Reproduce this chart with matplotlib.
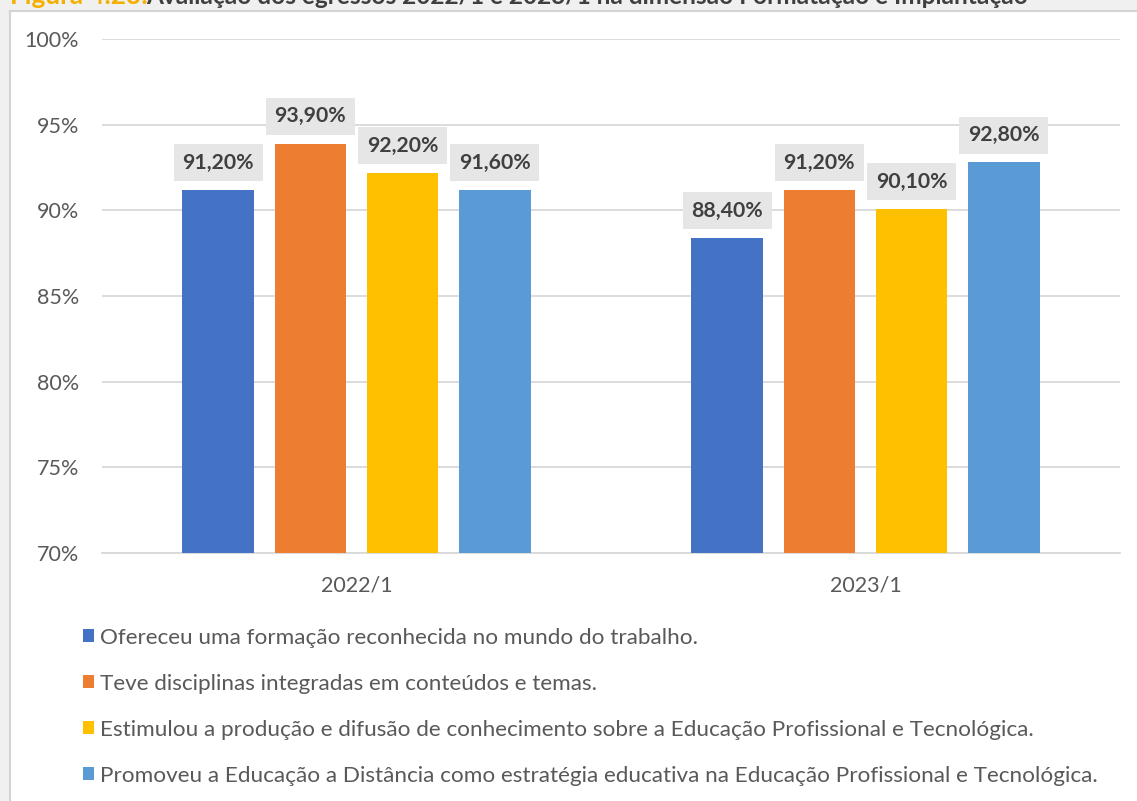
import matplotlib
matplotlib.use("Agg")
import matplotlib.pyplot as plt
import numpy as np

plt.rcParams['font.family'] = ['Lato', 'DejaVu Sans']

categories = ["2022/1", "2023/1"]
series_names = [
    "Ofereceu uma formação reconhecida no mundo do trabalho.",
    "Teve disciplinas integradas em conteúdos e temas.",
    "Estimulou a produção e difusão de conhecimento sobre a Educação Profissional e Tecnológica.",
    "Promoveu a Educação a Distância como estratégia educativa na Educação Profissional e Tecnológica.",
]
# bar heights as drawn in the picture (%)
series_values = [
    [91.2, 88.4],
    [93.9, 91.2],
    [92.2, 90.1],
    [91.2, 92.8],
]
# data labels as printed in the picture
series_labels = [
    ["91,20%", "88,40%"],
    ["93,90%", "91,20%"],
    ["92,20%", "90,10%"],
    ["91,60%", "92,80%"],
]
colors = ["#4472C4", "#ED7D31", "#FFC000", "#5B9BD5"]
yticks = [70, 75, 80, 85, 90, 95, 100]
ytick_labels = ["70%", "75%", "80%", "85%", "90%", "95%", "100%"]

W, H = 1137, 801
fig = plt.figure(figsize=(W / 100, H / 100), dpi=100)
fig.patch.set_facecolor("#f0f0f0")

# white panel
panel = fig.add_axes([10 / W, 0, 1 - 10 / W, 1 - 11 / H])
panel.set_xticks([]); panel.set_yticks([])
panel.set_facecolor("white")
for s in ["right", "bottom"]:
    panel.spines[s].set_visible(False)
for s in ["left", "top"]:
    panel.spines[s].set_color("#d4d4d4")
    panel.spines[s].set_linewidth(1.5)

# title (cut off at the top edge, as in the reference)
fig.text(10 / W, 1 - 4.5 / H, "Figura 4.23:", color="#F5AF00", fontsize=18.8,
         fontweight="bold", va="baseline", ha="left")
fig.text(146 / W, 1 - 4.5 / H,
         "Avaliação dos egressos 2022/1 e 2023/1 na dimensão Formatação e Implantação",
         color="#3f3f3f", fontsize=17.6, fontweight="bold", va="baseline", ha="left")

ax = fig.add_axes([102 / W, 1 - 553 / H, (1120 - 102) / W, (553 - 39) / H])
ax.set_facecolor("none")
x = np.arange(len(categories))
bw = 0.141
pitch = 0.181
handles = []
for i, (vals, labs, c, name) in enumerate(zip(series_values, series_labels, colors, series_names)):
    pos = x + (i - 1.5) * pitch
    b = ax.bar(pos, np.array(vals) - 70, bottom=70, width=bw, color=c, label=name, zorder=3)
    handles.append(b)
    for px, v, lab in zip(pos, vals, labs):
        ax.annotate(lab, (px, v), xytext=(0, 19.5), textcoords="offset points",
                    ha="center", va="center", fontsize=15.3, fontweight="bold",
                    color="#404040", zorder=5,
                    bbox=dict(boxstyle="square,pad=0.4", fc="#e7e6e6", ec="none"))

ax.set_xlim(-0.5, 1.5)
ax.set_ylim(70, 100)
ax.set_yticks(yticks)
ax.set_yticklabels(ytick_labels)
ax.set_xticks(x)
ax.set_xticklabels(categories)
ax.yaxis.grid(True, color="#d9d9d9", linewidth=1.3, zorder=0)
ax.tick_params(axis="both", length=0, labelsize=15.5, colors="#595959")
ax.tick_params(axis="y", pad=16.5)
ax.tick_params(axis="x", pad=16)
for s in ["left", "right", "top"]:
    ax.spines[s].set_visible(False)
ax.spines["bottom"].set_color("#d9d9d9")
ax.spines["bottom"].set_linewidth(1.3)

leg = fig.legend(handles=handles, labels=series_names, loc="upper left",
                 bbox_to_anchor=(83 / W, 1 - 627.5 / H), frameon=False,
                 fontsize=16.2, labelcolor="#595959", handlelength=0.5,
                 handleheight=0.5, handletextpad=0.27, labelspacing=1.16,
                 borderpad=0, borderaxespad=0)

fig.savefig("out.png", dpi=100, facecolor=fig.get_facecolor())
